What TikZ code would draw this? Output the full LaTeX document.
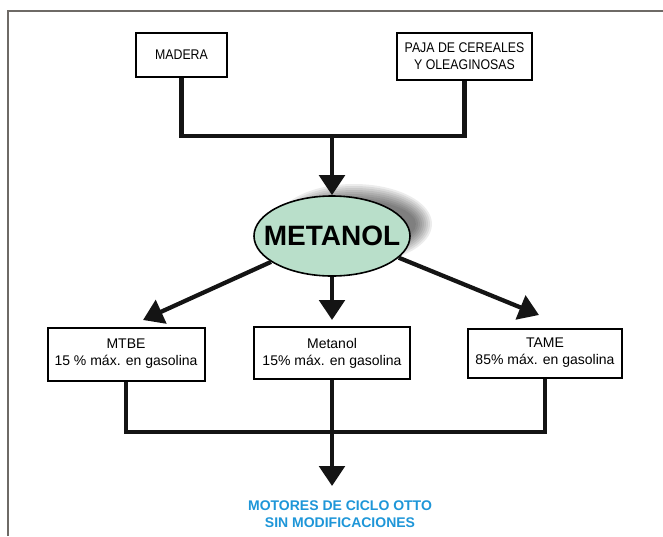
\documentclass[tikz,border=0pt]{standalone}
\usepackage{fontspec}
\setmainfont{Liberation Sans}
\newfontfamily\narrowfont[FakeStretch=0.88]{Liberation Sans}
\usetikzlibrary{arrows.meta,shapes.geometric}
\definecolor{mint}{HTML}{B9DFCA}
\definecolor{motorblue}{HTML}{1E96D8}
\definecolor{framegray}{HTML}{6E6A66}
\tikzset{
  boxtext/.style={font=\fontsize{10.5}{12.75}\selectfont, align=center},
  srcbox/.style={draw=black, line width=1.5pt, fill=white, inner sep=2pt,
                 font=\narrowfont\fontsize{10.5}{12.75}\selectfont, align=center},
  prodbox/.style={draw=black, line width=1.5pt, fill=white, inner sep=2pt,
                  boxtext},
  conn/.style={line width=3.2pt, draw=black!92},
  arr/.style={conn, -{Triangle[width=19pt,length=15pt]}},
}
\begin{document}
\begin{tikzpicture}[x=0.75pt, y=-0.75pt]
  \useasboundingbox (0,0) rectangle (663,536);
  % page frame
  \draw[framegray, line width=0.9pt] (8,536) -- (8,11) -- (663,11);

  % raw materials
  \node[srcbox, minimum width=68.25pt, minimum height=33pt] (madera) at (181.5,55) {MADERA};
  \node[srcbox, minimum width=101.25pt, minimum height=35.25pt] (paja) at (464.5,56.5)
       {PAJA DE CEREALES\\Y OLEAGINOSAS};

  % soft shadow behind the central ellipse
  \foreach \k in {0,...,8}
    \fill[black, opacity=0.075] (354,224) ellipse [x radius={62+2*\k}, y radius={24+2*\k}];

  % central product
  \node[ellipse, draw=black, line width=1.2pt, fill=mint, minimum width=117pt, minimum height=60pt,
        inner sep=0pt,
        label={[font=\bfseries\fontsize{21}{24}\selectfont]center:METANOL}] (met) at (332,236) {};

  % uses
  \node[prodbox, minimum width=117.75pt, minimum height=39.75pt] (mtbe) at (126,354)
       {MTBE\\15 \% máx. en gasolina};
  \node[prodbox, minimum width=117pt, minimum height=39pt] (metbox) at (332,353)
       {Metanol\\15\% máx. en gasolina};
  \node[prodbox, minimum width=115.5pt, minimum height=36.75pt] (tame) at (545,353)
       {TAME\\85\% máx. en gasolina};

  % result
  \node[font=\bfseries\fontsize{10.5}{12.75}\selectfont, text=motorblue, align=center]
       (motores) at (340,514) {MOTORES DE CICLO OTTO\\SIN MODIFICACIONES};

  % junction and tip points
  \coordinate (jl) at (181.5,136);
  \coordinate (jr) at (464.5,136);
  \coordinate (jm) at (332,136);
  \coordinate (tl) at (143,320);
  \coordinate (tm) at (332,320);
  \coordinate (tr) at (539,315);
  \coordinate (bl) at (126,432);
  \coordinate (br) at (545,432);
  \coordinate (bm) at (332,432);
  \coordinate (tb) at (332,486);

  % connectors
  \draw[conn] (madera) -- (jl) -- (jr) -- (paja);
  \draw[arr] (jm) -- (met);
  \draw[arr] (met.203) -- (tl);
  \draw[arr] (met) -- (tm);
  \draw[arr] (met.342) -- (tr);
  \draw[conn] (mtbe) -- (bl) -- (br) -- (tame);
  \draw[conn] (metbox) -- (bm);
  \draw[arr] (bm) -- (tb);
\end{tikzpicture}
\end{document}
